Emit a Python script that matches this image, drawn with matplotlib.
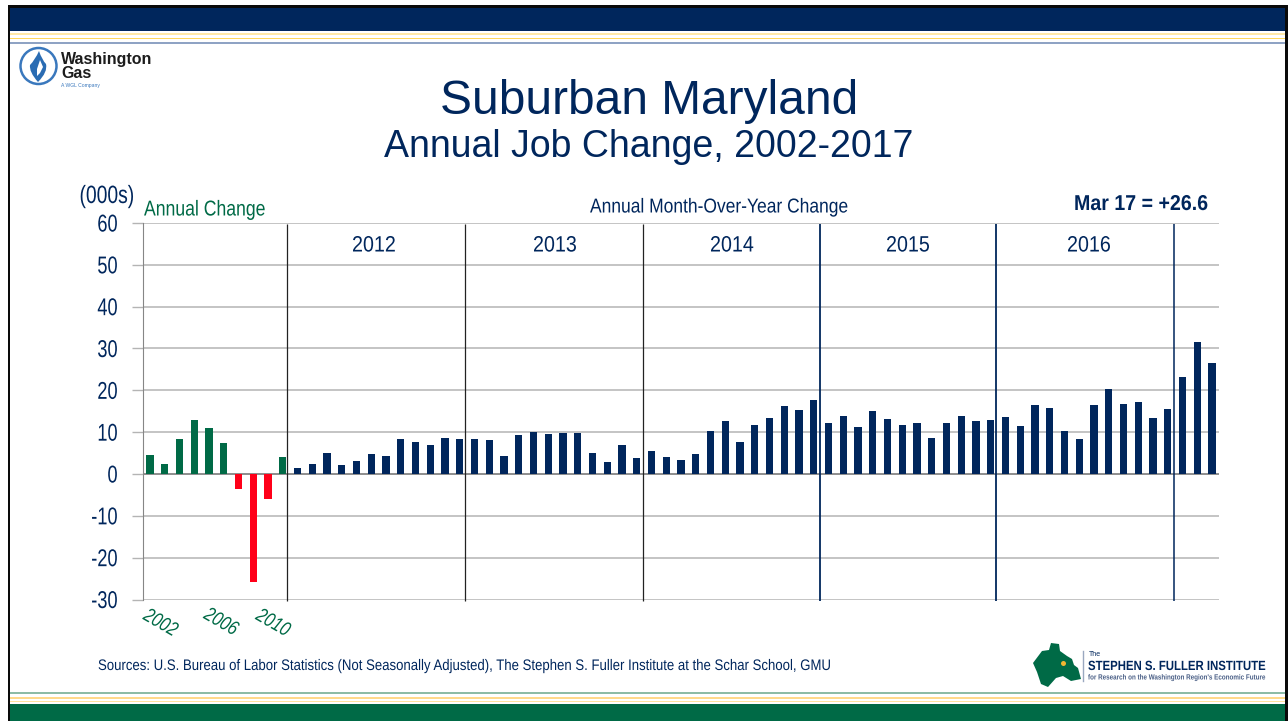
import matplotlib
matplotlib.use("Agg")
import matplotlib.pyplot as plt
from matplotlib.patches import Circle, PathPatch, Polygon, Rectangle
from matplotlib.path import Path
from matplotlib.patheffects import AbstractPathEffect
from matplotlib.transforms import Affine2D
import numpy as np

NAVY = "#00265c"
GREEN = "#006a46"
RED = "#ff0019"
GRID = "#b4b4b4"
AXIS = "#868686"

W, H = 1288, 721

annual_years = [2002, 2003, 2004, 2005, 2006, 2007, 2008, 2009, 2010, 2011]
annual_change = [4.6, 2.4, 8.4, 12.9, 11.0, 7.5, -3.7, -25.8, -5.9, 4.1]

change_2012 = [1.4, 2.4, 5.0, 2.2, 3.1, 4.7, 4.2, 8.4, 7.6, 7.0, 8.6, 8.4]
change_2013 = [8.4, 8.1, 4.2, 9.3, 10.0, 9.6, 9.7, 9.9, 5.0, 2.9, 7.0, 3.9]
change_2014 = [5.6, 4.1, 3.4, 4.8, 10.2, 12.6, 7.7, 11.7, 13.4, 16.2, 15.4, 17.6]
change_2015 = [12.2, 13.8, 11.3, 15.0, 13.2, 11.7, 12.1, 8.6, 12.2, 13.9, 12.6, 12.8]
change_2016 = [13.6, 11.5, 16.4, 15.7, 10.2, 8.4, 16.4, 20.3, 16.7, 17.2, 13.4, 15.5]
change_2017 = [23.3, 31.5, 26.6]

year_labels = ["2012", "2013", "2014", "2015", "2016"]
year_label_pos = [374, 555, 732, 908, 1089]
divider_px = [287.5, 465, 643, 820, 996, 1174]
divider_colors = ["#222222", "#222222", "#222222", NAVY, NAVY, NAVY]
divider_widths = [0.9, 0.9, 0.9, 1.3, 1.3, 1.1]
yticks = list(range(-30, 70, 10))

plt.rcParams["font.family"] = ["Liberation Sans", "DejaVu Sans"]
plt.rcParams["axes.unicode_minus"] = False


class Squeeze(AbstractPathEffect):
    # the reference uses a condensed face, no such font here, so narrow the glyphs
    def __init__(self, sx, anchor, angle=0):
        super().__init__()
        self.tr = (Affine2D().translate(-anchor[0], -anchor[1]).rotate_deg(-angle)
                   .scale(sx, 1).rotate_deg(angle).translate(anchor[0], anchor[1]))

    def draw_path(self, renderer, gc, tpath, affine, rgbFace=None):
        renderer.draw_path(gc, tpath, affine + self.tr, rgbFace)


def px_axes(fig, zorder):
    # overlay in image pixels, y down
    ax = fig.add_axes([0, 0, 1, 1], zorder=zorder)
    ax.set_xlim(0, W)
    ax.set_ylim(H, 0)
    ax.axis("off")
    return ax


def band(ax, y0, y1, color, x0=10, x1=1285):
    ax.add_patch(Rectangle((x0, y0), x1 - x0, y1 - y0, fc=color, ec="none"))


def narrow_text(ax, x, y, s, width, angle=0, **kw):
    # real text, squeezed so it runs width pixels along its baseline
    t = ax.text(x, y, s, va="center", rotation_mode="anchor", **kw)
    natural = t.get_window_extent(fig.canvas.get_renderer()).width
    t.set_rotation(angle)
    t.set_path_effects([Squeeze(width / natural, ax.transData.transform((x, y)), angle)])
    return t


fig = plt.figure(figsize=(W / 100, H / 100), dpi=100, facecolor="white")
bg = px_axes(fig, 0)

# slide frame
band(bg, 5, 8, "#0a0a0a", 8, 1288)
band(bg, 8, 31, NAVY)
band(bg, 33, 35, "#ffe9a8")
band(bg, 37.5, 39, "#ffd75a")
band(bg, 41.5, 43.5, "#8fa3c4")
band(bg, 692, 693.5, "#8dbba6")
band(bg, 697, 698.5, "#ffd98a")
band(bg, 700.5, 702, "#ffe3a0")
band(bg, 704, 721, GREEN)
band(bg, 5, 721, "#0a0a0a", 8, 10)
band(bg, 5, 721, "#0a0a0a", 1285, 1288)

# Washington Gas logo
bg.add_patch(Circle((38.5, 66), 18, fc="white", ec="#3a78bd", lw=1.8))
flame = Path([(39, 51), (42, 60), (46, 64), (48, 72), (38, 82), (29, 72), (30, 65), (35, 60), (39, 51)],
             [Path.MOVETO, Path.CURVE3, Path.CURVE3, Path.CURVE3, Path.CURVE3,
              Path.CURVE3, Path.CURVE3, Path.CURVE3, Path.CURVE3])
bg.add_patch(PathPatch(flame, fc="#2a6cb3", ec="none"))
bg.add_patch(Polygon([(40, 60), (43, 67), (40, 73), (37, 76), (37, 69)], closed=True, fc="white", ec="none"))
bg.text(61, 59.5, "Washington", fontsize=11.5, fontweight="bold", color="#1c1c1c", ha="left", va="center")
bg.text(61, 74, "Gas", fontsize=11.5, fontweight="bold", color="#1c1c1c", ha="left", va="center")
bg.text(61, 85.5, "A WGL Company", fontsize=3.6, color="#3a78bd", ha="left", va="center")

# titles
bg.text(649, 97, "Suburban Maryland", fontsize=34.5, color=NAVY, ha="center", va="center_baseline")
bg.text(649, 143, "Annual Job Change, 2002-2017", fontsize=27, color=NAVY, ha="center", va="center_baseline")

# chart, plotted on category positions
ax = fig.add_axes([142.6 / W, 1 - 599.5 / H, (1219.4 - 142.6) / W, (599.5 - 223) / H], zorder=2)
ax.patch.set_alpha(0)

monthly = change_2012 + change_2013 + change_2014 + change_2015 + change_2016 + change_2017
values = annual_change + monthly
x = np.arange(len(values))
colors = [GREEN if v >= 0 else RED for v in annual_change] + [NAVY] * len(monthly)
ax.bar(x, values, width=0.48, color=colors, zorder=3)

ax.set_xlim(-0.5, len(values) - 0.5)
ax.set_ylim(-30, 60)
ax.set_yticks(yticks)
ax.set_xticks([])
ax.grid(True, axis="y", color=GRID, lw=1.1, zorder=1)
ax.set_axisbelow(True)
ax.tick_params(axis="y", length=8, width=1.0, color=GRID, labelsize=17.5, labelcolor=NAVY, pad=10.5)
for side in ("top", "right", "bottom"):
    ax.spines[side].set_visible(False)
ax.spines["left"].set_color(AXIS)
ax.axhline(0, color=AXIS, lw=1.2, zorder=2)
for lab in ax.get_yticklabels():
    lab.set_path_effects([Squeeze(0.75, (120, 0))])

# dividers and small texts go on a pixel overlay
fg = px_axes(fig, 3)
for px, c, lw in zip(divider_px, divider_colors, divider_widths):
    fg.plot([px, px], [224, 601], color=c, lw=lw, solid_capstyle="butt")
for lab, px in zip(year_labels, year_label_pos):
    narrow_text(fg, px, 246, lab, 44, fontsize=16, color=NAVY, ha="center")

narrow_text(fg, 107, 196, "(000s)", 55, fontsize=18, color=NAVY, ha="center")
narrow_text(fg, 144, 210, "Annual Change", 121, fontsize=15.5, color=GREEN, ha="left")
narrow_text(fg, 719, 207, "Annual Month-Over-Year Change", 258, fontsize=14.5, color=NAVY, ha="center")
narrow_text(fg, 1208, 204.5, "Mar 17 = +26.6", 134, fontsize=15.5, fontweight="bold", color=NAVY, ha="right")

for yr, px, py in zip(annual_years[::4], [160.5, 221, 273], [623, 622, 623]):
    narrow_text(fg, px, py, str(yr), 36, angle=-30, fontsize=14.5, color=GREEN, style="italic", ha="center")

narrow_text(fg, 98, 666, "Sources: U.S. Bureau of Labor Statistics (Not Seasonally Adjusted), "
            "The Stephen S. Fuller Institute at the Schar School, GMU",
            731, fontsize=11, color=NAVY, ha="left")

# Fuller Institute logo
fg.add_patch(Polygon([(1033, 663), (1042, 651), (1049, 650), (1051, 643), (1059, 644), (1060, 651),
                      (1067, 656), (1072, 659), (1074, 665), (1078, 668), (1081, 679), (1071, 681),
                      (1063, 676), (1056, 678), (1048, 687), (1041, 684), (1037, 672)],
                     closed=True, fc=GREEN, ec="none"))
fg.add_patch(Circle((1063.5, 663.5), 2.5, fc="#f2b632", ec="none"))
fg.plot([1083.5, 1083.5], [651, 681], color="#9aa8c0", lw=1)
fg.text(1089, 655, "The", fontsize=5, color=NAVY, ha="left", va="center")
narrow_text(fg, 1177, 667, "STEPHEN S. FULLER INSTITUTE", 178, fontsize=9.6, fontweight="bold", color=NAVY,
            ha="center")
narrow_text(fg, 1177, 678, "for Research on the Washington Region's Economic Future", 178, fontsize=5.4,
            fontweight="bold", color="#4a5f86", ha="center")

fig.savefig("out.png", dpi=100)
plt.close(fig)
